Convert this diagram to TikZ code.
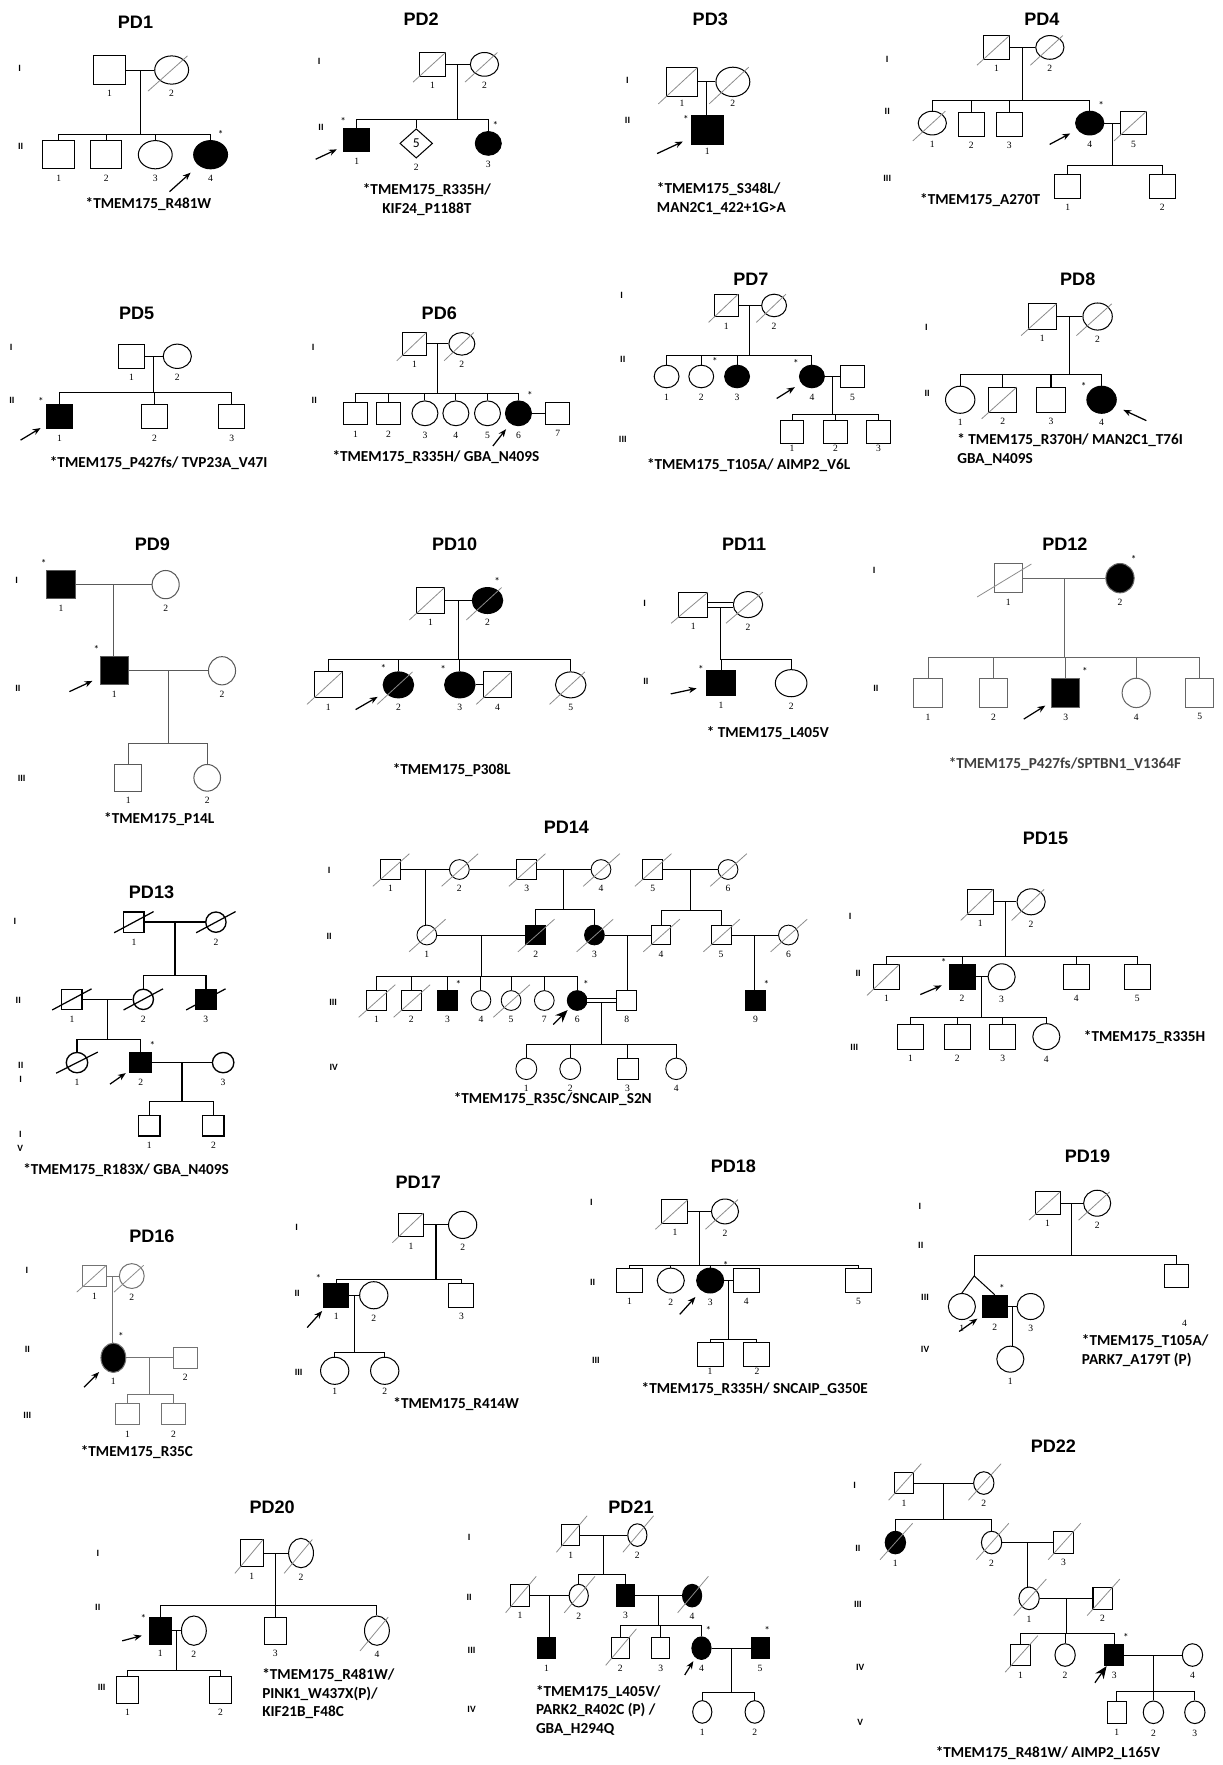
\documentclass[tikz,border=0pt]{standalone}
\usepackage{fontspec}
\setmainfont{Liberation Serif}
\newfontfamily\arialf{Liberation Sans}
\newfontfamily\calf{Carlito}
\usetikzlibrary{calc,shapes.geometric,arrows.meta}

\newcommand{\titlefont}{\arialf\bfseries\fontsize{16}{18}\selectfont}
\newcommand{\mutfont}{\calf\bfseries\fontsize{13.5}{16.5}\selectfont}
\newcommand{\numfont}{\fontsize{8.5}{9}\selectfont}
\newcommand{\genfont}{\calf\bfseries\fontsize{8.5}{12.5}\selectfont}

\def\symw{22pt}\def\symh{22pt}
\def\sxa{-0.75}\def\sya{-0.75}\def\sxb{0.5}\def\syb{0.5}
\def\numsep{4.5pt}

\tikzset{
  male/.style={draw, rectangle, minimum width=\symw, minimum height=\symh, inner sep=0pt},
  female/.style={draw, ellipse, minimum width=\symw, minimum height=\symh, inner sep=0pt},
  aff/.style={fill=black},
  num/.style={font=\numfont, inner sep=\numsep},
  stl/.style={font=\calf\fontsize{10}{10}\selectfont, inner sep=1.5pt},
  gen/.style={font=\genfont, align=center},
  pdtitle/.style={font=\titlefont},
  mut/.style={font=\mutfont, align=left},
  slash/.style={black!45, line width=0.7pt},
  proband/.style={-{Stealth[length=7pt,width=5.5pt]}, line width=1.1pt, black},
  bigproband/.style={-{Stealth[length=11pt,width=9pt]}, line width=1.1pt, black},
}

% symbols, marriages and sibships
\newcommand{\mal}[4][]{\node[male,#1,label={[num]below:#4}] (#2) at (#3) {};}
\newcommand{\fem}[4][]{\node[female,#1,label={[num]below:#4}] (#2) at (#3) {};}
\newcommand{\dead}[1]{\draw[slash] ($(#1)+(\sxa*\symw,\sya*\symh)$) -- ($(#1)+(\sxb*\symw,\syb*\symh)$);}
\newcommand{\prob}[2][225]{\draw[proband] ($(#2)+(#1:1.75*\symw)$) -- ($(#2)+(#1:0.85*\symw)$);}
\newcommand{\desc}[3]{\draw (#2) -- (#3); \coordinate (#1) at ($(#2.east)!0.5!(#3.west)$);}
\newcommand{\descc}[3]{\draw[double distance=3.5pt] (#2) -- (#3); \coordinate (#1) at ($(#2.east)!0.5!(#3.west)+(0,-2.2pt)$);}
\newcommand{\sibs}[3]{\draw (#1) -- (#1 |- 0,#2); \foreach \k in {#3} {\draw (\k.north) |- (#1 |- 0,#2);}}
\newcommand{\onechild}[2]{\draw (#1) -- (#1 |- #2.north);}

\begin{document}
\begin{tikzpicture}[x=1pt,y=-1pt,line width=0.9pt]
\fill[white] (0,0) rectangle (1083,1563);
\useasboundingbox (0,0) rectangle (1083,1563);

% PD1
\begin{scope}
\def\symw{28pt}\def\symh{25pt}
\node[pdtitle] (t1) at (120,20) {PD1};
\node[gen] (g1a) at (17.5,60.5) {I};
\node[gen] (g1b) at (18.3,130) {II};
\mal{p1a}{97,62}{1}
\fem[minimum width=30pt]{p1b}{152,62}{2} \dead{p1b}
\desc{p1m}{p1a}{p1b}
\mal{p1c}{52,137}{1}
\mal{p1d}{94,137}{2}
\fem[minimum width=30pt]{p1e}{137.5,137}{3}
\fem[aff,minimum width=30pt,label={[stl]70:*}]{p1f}{186.5,137}{4}
\prob[222]{p1f}
\sibs{p1m}{119}{p1c,p1d,p1e,p1f}
\node[mut] (m1) at (131.5,180.5) {*TMEM175\_R481W};
\end{scope}

% PD2
\begin{scope}
\def\symw{23pt}\def\symh{21pt}
\node[pdtitle] (t2) at (373,17) {PD2};
\node[gen] (g2a) at (282.6,54.6) {I};
\node[gen] (g2b) at (284.3,112.7) {II};
\mal{p2a}{383,57}{1} \dead{p2a}
\fem[minimum width=25pt]{p2b}{429,57}{2} \dead{p2b}
\desc{p2m}{p2a}{p2b}
\mal[aff,label={[stl]125:*}]{p2c}{316,124}{1}
\node[draw, diamond, minimum width=29pt, minimum height=26pt, inner sep=0pt, font=\calf\fontsize{12}{12}\selectfont, label={[num]below:2}] (p2d) at (368.6,127) {5};
\fem[aff,label={[stl]80:*}]{p2e}{432.4,127}{3}
\prob[205]{p2c}
\sibs{p2m}{105.6}{p2c,p2d,p2e}
\node[mut,align=center] (m2) at (378,177) {*TMEM175\_R335H/\\KIF24\_P1188T};
\end{scope}

% PD3
\begin{scope}
\def\symw{28pt}\def\symh{26pt}\def\numsep{2pt}
\node[pdtitle] (t3) at (629,17) {PD3};
\node[gen] (g3a) at (555.7,71.4) {I};
\node[gen] (g3b) at (555.7,106.2) {II};
\mal{p3a}{604,72.5}{1} \dead{p3a}
\fem[minimum width=30pt]{p3b}{649,72.5}{2} \dead{p3b}
\desc{p3m}{p3a}{p3b}
\mal[aff,label={[stl]165:*}]{p3c}{626.3,115.3}{1}
\onechild{p3m}{p3c}
\prob[205]{p3c}
\node[mut,anchor=west] (m3) at (578,176) {*TMEM175\_S348L/\\MAN2C1\_422+1G>A};
\end{scope}

% PD4
\begin{scope}
\def\symw{23pt}\def\symh{21pt}
\node[pdtitle] (t4) at (922.6,17) {PD4};
\node[gen] (g4a) at (785.7,53) {I};
\node[gen] (g4b) at (785.7,99) {II};
\node[gen] (g4c) at (785.7,158) {III};
\mal{p4a}{882.4,42}{1} \dead{p4a}
\fem[minimum width=25pt]{p4b}{929.7,42}{2} \dead{p4b}
\desc{p4m}{p4a}{p4b}
\fem[minimum width=25pt]{p4c}{825.6,109}{1} \dead{p4c}
\mal{p4d}{860.2,110}{2}
\mal{p4e}{893.7,110}{3}
\fem[aff,minimum width=25pt,label={[stl]60:*}]{p4f}{965,109}{4}
\mal{p4g}{1003.8,109}{5} \dead{p4g}
\prob[208]{p4f}
\sibs{p4m}{89.4}{p4c,p4d,p4e,p4f}
\desc{p4n}{p4f}{p4g}
\mal{p4h}{945.5,165.2}{1}
\mal{p4i}{1029.2,165.2}{2}
\sibs{p4n}{146.6}{p4h,p4i}
\node[mut] (m4) at (868,177) {*TMEM175\_A270T};
\end{scope}

% PD5
\begin{scope}
\def\symw{23pt}\def\symh{21.5pt}
\node[pdtitle] (t5) at (121,277.4) {PD5};
\node[gen] (g5a) at (9.8,307.4) {I};
\node[gen] (g5b) at (10.5,354.6) {II};
\mal{p5a}{116.5,315.5}{1}
\fem[minimum width=25pt]{p5b}{157,315.5}{2}
\desc{p5m}{p5a}{p5b}
\mal[aff,label={[stl]147:*}]{p5c}{52.7,369}{1}
\mal{p5d}{136.9,369}{2}
\mal{p5e}{205.3,369}{3}
\prob[211]{p5c}
\sibs{p5m}{347.6}{p5c,p5d,p5e}
\node[mut] (m5) at (140.5,410) {*TMEM175\_P427fs/ TVP23A\_V47I};
\end{scope}

% PD6
\begin{scope}
\def\symw{21pt}\def\symh{20pt}
\node[pdtitle] (t6) at (389,277.4) {PD6};
\node[gen] (g6a) at (277.3,307.4) {I};
\node[gen] (g6b) at (278.3,354.6) {II};
\mal{p6a}{367.1,304.5}{1} \dead{p6a}
\fem[minimum width=23pt]{p6b}{409,304.5}{2} \dead{p6b}
\desc{p6m}{p6a}{p6b}
\mal{p6c}{314.8,366}{1}
\mal{p6d}{344,366}{2}
\fem[minimum width=23pt,minimum height=22pt]{p6e}{376.3,366}{3}
\fem[minimum width=23pt,minimum height=22pt]{p6f}{403.7,366}{4}
\fem[minimum width=23pt,minimum height=22pt]{p6g}{431.7,366}{5}
\fem[aff,minimum width=23pt,minimum height=22pt,label={[stl]60:*}]{p6h}{459.1,366}{6}
\mal{p6i}{493.9,366}{7}
\draw (p6h) -- (p6i);
\prob[232]{p6h}
\sibs{p6m}{348.7}{p6c,p6d,p6e,p6f,p6g,p6h}
\node[mut] (m6) at (386,405) {*TMEM175\_R335H/ GBA\_N409S};
\end{scope}

% PD7
\begin{scope}
\def\symw{21pt}\def\symh{20pt}
\node[pdtitle] (t7) at (665,247) {PD7};
\node[gen] (g7a) at (550.4,262) {I};
\node[gen] (g7b) at (551.5,318.6) {II};
\node[gen] (g7c) at (551.5,389.4) {III};
\mal{p7a}{643.2,270.5}{1} \dead{p7a}
\fem[minimum width=22pt]{p7b}{685.5,270.5}{2} \dead{p7b}
\desc{p7m}{p7a}{p7b}
\fem[minimum width=22pt]{p7c}{590.3,333.4}{1}
\fem[minimum width=22pt,label={[stl]45:*}]{p7d}{621,333.4}{2}
\fem[aff,minimum width=22pt]{p7e}{652.7,333.4}{3}
\fem[aff,minimum width=22pt,label={[stl]150:*}]{p7f}{719,333.4}{4}
\mal{p7g}{755,333.4}{5}
\prob[212]{p7f}
\sibs{p7m}{315.1}{p7c,p7d,p7e,p7f}
\desc{p7n}{p7f}{p7g}
\def\numsep{1pt}
\mal{p7h}{701.4,382.5}{1}
\mal{p7i}{739.9,382.5}{2}
\mal{p7j}{778,382.5}{3}
\sibs{p7n}{367}{p7h,p7i,p7j}
\node[mut] (m7) at (663,411.5) {*TMEM175\_T105A/ AIMP2\_V6L};
\end{scope}

% PD8
\begin{scope}
\def\symw{25pt}\def\symh{22.5pt}
\node[pdtitle] (t8) at (954.4,247) {PD8};
\node[gen] (g8a) at (820.3,289.7) {I};
\node[gen] (g8b) at (821,348.1) {II};
\mal{p8a}{923,280.3}{1} \dead{p8a}
\fem[minimum width=26pt,minimum height=24pt]{p8b}{972,280.3}{2} \dead{p8b}
\desc{p8m}{p8a}{p8b}
\fem[minimum width=26pt,minimum height=24pt]{p8c}{850.3,354}{1}
\mal{p8d}{888,354}{2} \dead{p8d}
\mal{p8e}{930.7,354}{3}
\fem[aff,minimum width=26pt,minimum height=24pt,label={[stl]150:*}]{p8f}{975.5,354}{4}
\prob[335]{p8f}
\sibs{p8m}{331.9}{p8c,p8d,p8e,p8f}
\node[mut,anchor=west] (m8) at (844,398) {* TMEM175\_R370H/ MAN2C1\_T76I\\GBA\_N409S};
\end{scope}

% PD9
\begin{scope}[draw=black!65]
\def\symw{25pt}\def\symh{25pt}
\node[pdtitle] (t9) at (135,482.3) {PD9};
\node[gen] (g9a) at (14.7,514.2) {I};
\node[gen] (g9b) at (15.8,609.2) {II};
\node[gen] (g9c) at (19.2,689.7) {III};
\mal[aff,label={[stl]130:*}]{p9a}{54,517.7}{1}
\fem[minimum width=24pt]{p9b}{146.7,517.7}{2}
\desc{p9m}{p9a}{p9b}
\mal[aff,label={[stl]131:*}]{p9c}{101.1,594}{1}
\onechild{p9m}{p9c}
\fem[minimum width=24pt]{p9d}{196.6,594}{2}
\prob[205]{p9c}
\desc{p9n}{p9c}{p9d}
\mal[minimum width=23.6pt,minimum height=23.6pt]{p9e}{113.6,688.8}{1}
\fem[minimum width=23.6pt,minimum height=23.6pt]{p9f}{183.5,688.8}{2}
\sibs{p9n}{658.4}{p9e,p9f}
\node[mut] (m9) at (141,725.7) {*TMEM175\_P14L};
\end{scope}

% PD10
\begin{scope}
\def\symw{25pt}\def\symh{23pt}
\node[pdtitle] (t10) at (402.6,482.3) {PD10};
\mal{p10a}{381.2,531.8}{1} \dead{p10a}
\fem[aff,minimum width=27pt,label={[stl]70:*}]{p10b}{431.7,531.8}{2} \dead{p10b}
\desc{p10m}{p10a}{p10b}
\mal{p10c}{290.6,606.5}{1} \dead{p10c}
\fem[aff,minimum width=27pt,label={[stl]133:*}]{p10d}{352.8,606.5}{2} \dead{p10d}
\fem[aff,minimum width=27pt,label={[stl]142:*}]{p10e}{407.2,606.5}{3}
\mal{p10f}{440.5,606.5}{4} \dead{p10f}
\fem[minimum width=27pt]{p10g}{505.4,606.5}{5} \dead{p10g}
\draw (p10e) -- (p10f);
\prob[210]{p10d}
\sibs{p10m}{584.1}{p10c,p10d,p10e,p10g}
\node[mut] (m10) at (400,682) {*TMEM175\_P308L};
\end{scope}

% PD11
\begin{scope}
\def\symw{26pt}\def\symh{22pt}
\node[pdtitle] (t11) at (659,482.3) {PD11};
\node[gen] (g11a) at (570.9,534) {I};
\node[gen] (g11b) at (571.9,603.3) {II};
\mal{p11a}{613.9,535.4}{1} \dead{p11a}
\fem[minimum height=23pt]{p11b}{662.4,535.4}{2} \dead{p11b}
\descc{p11m}{p11a}{p11b}
\mal[aff,label={[stl]154:*}]{p11c}{638.5,605}{1}
\fem[minimum width=28pt,minimum height=24pt]{p11d}{700.6,605}{2}
\prob[192]{p11c}
\sibs{p11m}{584.1}{p11c,p11d}
\node[mut] (m11) at (680,649) {* TMEM175\_L405V};
\end{scope}

% PD12
\begin{scope}[draw=black!60]
\def\symw{25pt}\def\symh{26pt}
\def\sxa{-1.1}\def\sya{-0.64}\def\sxb{0.82}\def\syb{0.48}
\node[pdtitle] (t12) at (943,482.3) {PD12};
\node[gen] (g12a) at (774,505.3) {I};
\node[gen] (g12b) at (775.7,610) {II};
\mal{p12a}{892.8,512}{1} \dead{p12a}
\fem[aff,label={[stl]55:*}]{p12b}{991.8,512}{2}
\desc{p12m}{p12a}{p12b}
\mal{p12c}{821.8,613.6}{1}
\mal{p12d}{879.9,613.6}{2}
\mal[aff,label={[stl]47:*}]{p12e}{943.7,613.6}{3}
\fem{p12f}{1006.2,613.6}{4}
\mal{p12g}{1062.5,613.6}{5}
\prob[212]{p12e}
\sibs{p12m}{582.6}{p12c,p12d,p12e,p12f,p12g}
\node[mut,text=black!75] (m12) at (943,677) {*TMEM175\_P427fs/SPTBN1\_V1364F};
\end{scope}

% PD13
\begin{scope}[line width=1.2pt]
\def\symw{18pt}\def\symh{18pt}
\def\sxa{-0.97}\def\sya{-0.52}\def\sxb{0.97}\def\syb{0.52}
\tikzset{slash/.style={black, line width=1.1pt}}
\node[pdtitle] (t13) at (134.2,790) {PD13};
\node[gen] (g13a) at (13.3,815.7) {I};
\node[gen] (g13b) at (16.2,885.9) {II};
\node[gen] (g13c) at (18.4,949.6) {II\\I};
\node[gen] (g13d) at (18,1011) {I\\V};
\mal{p13a}{118.6,816.6}{1} \dead{p13a}
\fem{p13b}{191.2,816.6}{2} \dead{p13b}
\desc{p13m}{p13a}{p13b}
\mal{p13c}{63.7,885}{1} \dead{p13c}
\fem{p13d}{126.9,885}{2} \dead{p13d}
\mal[aff]{p13e}{182.3,885}{3} \dead{p13e}
\sibs{p13m}{863.8}{p13d,p13e}
\desc{p13n}{p13c}{p13d}
\def\symw{19pt}
\fem{p13f}{68.2,941}{1} \dead{p13f}
\mal[aff,label={[stl]59:*}]{p13g}{124.6,941}{2}
\fem{p13h}{197.6,941}{3}
\prob[215]{p13g}
\sibs{p13n}{920.8}{p13f,p13g}
\desc{p13o}{p13g}{p13h}
\mal{p13i}{132.2,997}{1}
\mal{p13j}{189,997}{2}
\sibs{p13o}{975.6}{p13i,p13j}
\node[mut] (m13) at (111.6,1036) {*TMEM175\_R183X/ GBA\_N409S};
\end{scope}

% PD14
\begin{scope}[line width=0.8pt]
\def\symw{17.5pt}\def\symh{17.5pt}
\def\sxa{-0.9}\def\sya{-0.85}\def\sxb{0.95}\def\syb{0.8}
\node[pdtitle] (t14) at (501.6,732.2) {PD14};
\node[gen] (g14a) at (291.5,770.5) {I};
\node[gen] (g14b) at (291.5,829.5) {II};
\node[gen] (g14c) at (295,888) {III};
\node[gen] (g14d) at (295.5,945.5) {IV};
\mal{p14a}{345.9,770}{1} \dead{p14a}
\fem{p14b}{406.8,770}{2} \dead{p14b}
\mal{p14c}{466.4,770}{3} \dead{p14c}
\fem{p14d}{532.2,770}{4} \dead{p14d}
\mal{p14e}{578,770}{5} \dead{p14e}
\fem{p14f}{644.7,770}{6} \dead{p14f}
\desc{p14m}{p14a}{p14b}
\draw (p14b) -- (p14c);
\desc{p14n}{p14c}{p14d}
\desc{p14o}{p14e}{p14f}
\fem{p14g}{378,828}{1} \dead{p14g}
\mal[aff]{p14h}{474.4,828}{2} \dead{p14h}
\fem[aff]{p14i}{526.4,828}{3} \dead{p14i}
\mal{p14j}{585.4,828}{4} \dead{p14j}
\mal{p14k}{638.6,828}{5} \dead{p14k}
\fem{p14l}{698.2,828}{6} \dead{p14l}
\onechild{p14m}{p14g}
\sibs{p14n}{805.4}{p14h,p14i}
\sibs{p14o}{806}{p14j,p14k}
\desc{p14p}{p14g}{p14h}
\desc{p14q}{p14i}{p14j}
\desc{p14r}{p14k}{p14l}
\mal{p14s}{333.4,886}{1} \dead{p14s}
\mal{p14t}{364.3,886}{2} \dead{p14t}
\mal[aff,label={[stl]60:*}]{p14u}{396.4,886}{3}
\fem{p14v}{425.9,886}{4}
\fem{p14w}{452.6,886}{5} \dead{p14w}
\fem{p14x}{482,886}{7}
\fem[aff,label={[stl]68:*}]{p14y}{511.1,886}{6}
\mal{p14z}{555,886}{8}
\mal[aff,label={[stl]60:*}]{p14nine}{669,886}{9}
\sibs{p14p}{865}{p14s,p14t,p14u,p14v,p14w,p14x,p14y}
\onechild{p14q}{p14z}
\onechild{p14r}{p14nine}
\draw[bigproband] ($(p14y)+(225:30pt)$) -- ($(p14y)+(225:12pt)$);
\descc{p14cc}{p14y}{p14z}
\fem[minimum width=18.5pt,minimum height=19pt]{p14aa}{466.1,946.5}{1}
\fem[minimum width=18.5pt,minimum height=19pt]{p14ab}{505,946.5}{2}
\mal[minimum width=18.5pt,minimum height=19pt]{p14ac}{555.7,946.5}{3}
\fem[minimum width=18.5pt,minimum height=19pt]{p14ad}{598.8,946.5}{4}
\sibs{p14cc}{924.8}{p14aa,p14ab,p14ac,p14ad}
\node[mut] (m14) at (489.5,973.5) {*TMEM175\_R35C/SNCAIP\_S2N};
\end{scope}

% PD15
\begin{scope}
\def\symw{23pt}\def\symh{22pt}
\node[pdtitle] (t15) at (925.8,742.8) {PD15};
\node[gen] (g15a) at (752.9,811.8) {I};
\node[gen] (g15b) at (760,862) {II};
\node[gen] (g15c) at (756.5,927.8) {III};
\mal{p15a}{868,798.6}{1} \dead{p15a}
\fem[minimum width=25pt,minimum height=23pt]{p15b}{913.1,798.6}{2} \dead{p15b}
\desc{p15m}{p15a}{p15b}
\mal{p15c}{785,865}{1} \dead{p15c}
\mal[aff,label={[stl]150:*}]{p15d}{852,865}{2}
\fem[minimum width=24pt,minimum height=23pt]{p15e}{887,865}{3}
\mal{p15f}{953,865}{4}
\mal{p15g}{1007,865}{5}
\prob[203]{p15d}
\sibs{p15m}{847.2}{p15c,p15d,p15f,p15g}
\desc{p15n}{p15d}{p15e}
\mal{p15h}{806.4,918}{1}
\mal{p15i}{847.7,918}{2}
\mal{p15j}{887.9,918}{3}
\fem[minimum width=24pt,minimum height=23pt]{p15k}{926.6,918}{4}
\sibs{p15n}{901.2}{p15h,p15i,p15j,p15k}
\node[mut] (m15) at (1013.6,918) {*TMEM175\_R335H};
\end{scope}

% PD16
\begin{scope}[draw=black!55]
\def\symw{21pt}\def\symh{19pt}
\node[pdtitle] (t16) at (134.5,1094.5) {PD16};
\node[gen] (g16a) at (23.8,1125.4) {I};
\node[gen] (g16b) at (24.2,1195.3) {II};
\node[gen] (g16c) at (24.2,1253.2) {III};
\mal{p16a}{83.7,1130}{1} \dead{p16a}
\fem[minimum width=22pt,minimum height=22pt]{p16b}{116.7,1130}{2} \dead{p16b}
\desc{p16m}{p16a}{p16b}
\fem[aff,minimum width=22pt,minimum height=26pt,label={[stl]80:*}]{p16c}{100.4,1202.4}{1}
\onechild{p16m}{p16c}
\mal{p16d}{164.1,1202.4}{2}
\prob[225]{p16c}
\desc{p16n}{p16c}{p16d}
\mal{p16e}{112.9,1252.3}{1}
\mal{p16f}{153.7,1252.3}{2}
\sibs{p16n}{1234.6}{p16e,p16f}
\node[mut] (m16) at (121.2,1286.2) {*TMEM175\_R35C};
\end{scope}

% PD17
\begin{scope}
\def\symw{22pt}\def\symh{21pt}
\node[pdtitle] (t17) at (370.4,1047.3) {PD17};
\node[gen] (g17a) at (262.6,1087.1) {I};
\node[gen] (g17b) at (263.2,1145.2) {II};
\node[gen] (g17c) at (264.5,1215.4) {III};
\mal{p17a}{364,1084.7}{1} \dead{p17a}
\fem[minimum width=25pt,minimum height=24pt]{p17b}{409.7,1084.7}{2}
\desc{p17m}{p17a}{p17b}
\mal[aff,label={[stl]142:*}]{p17c}{297.8,1147}{1}
\fem[minimum width=25pt,minimum height=24pt]{p17d}{331,1147}{2}
\mal{p17e}{408.6,1147}{3}
\prob[228]{p17c}
\sibs{p17m}{1132.8}{p17c,p17e}
\desc{p17n}{p17c}{p17d}
\def\numsep{2.5pt}
\fem[minimum width=25pt,minimum height=24pt]{p17f}{296.4,1213.9}{1}
\fem[minimum width=25pt,minimum height=24pt]{p17g}{340.7,1213.9}{2}
\sibs{p17n}{1197.7}{p17f,p17g}
\node[mut] (m17) at (404,1243.5) {*TMEM175\_R414W};
\end{scope}

% PD18
\begin{scope}
\def\symw{23pt}\def\symh{21pt}
\node[pdtitle] (t18) at (649.5,1032.5) {PD18};
\node[gen] (g18a) at (523.8,1065) {I};
\node[gen] (g18b) at (524.9,1135.2) {II};
\node[gen] (g18c) at (527.7,1205.1) {III};
\mal{p18a}{597.7,1072.8}{1} \dead{p18a}
\fem[minimum width=24pt,minimum height=22pt]{p18b}{642,1072.8}{2} \dead{p18b}
\desc{p18m}{p18a}{p18b}
\mal{p18c}{557.5,1134}{1}
\fem[minimum width=24pt,minimum height=22pt]{p18d}{594,1134}{2}
\fem[aff,minimum width=24pt,minimum height=22pt,label={[stl]40:*}]{p18e}{628.9,1134}{3}
\mal{p18f}{660.8,1134}{4}
\mal{p18g}{760.3,1134}{5}
\prob[228]{p18e}
\sibs{p18m}{1120.4}{p18c,p18d,p18e,p18g}
\desc{p18n}{p18e}{p18f}
\def\numsep{1pt}
\mal{p18h}{628.8,1199.5}{1}
\mal{p18i}{670.3,1199.5}{2}
\sibs{p18n}{1186}{p18h,p18i}
\node[mut] (m18) at (668.3,1230) {*TMEM175\_R335H/ SNCAIP\_G350E};
\end{scope}

% PD19
\begin{scope}
\def\symw{22pt}\def\symh{20pt}
\node[pdtitle] (t19) at (963,1023.7) {PD19};
\node[gen] (g19a) at (814.7,1067.9) {I};
\node[gen] (g19b) at (815.4,1102.7) {II};
\node[gen] (g19c) at (819.2,1149) {III};
\node[gen] (g19d) at (819.2,1195.3) {IV};
\mal{p19a}{927.7,1065.5}{1} \dead{p19a}
\fem[minimum width=24pt,minimum height=23pt]{p19b}{971.6,1065.5}{2} \dead{p19b}
\desc{p19m}{p19a}{p19b}
\coordinate (p19tw) at (862.7,1129.9);
\node[male] (p19j) at (1041.8,1130) {};
\node[num] (p19k) at (1049,1172) {4};
\draw (p19tw) |- (p19m |- 0,1111.6);
\sibs{p19m}{1111.6}{p19j}
\fem[minimum width=24pt,minimum height=23pt]{p19c}{851.8,1157}{1}
\mal[aff,label={[stl]80:*}]{p19d}{880.9,1157}{2}
\fem[minimum width=24pt,minimum height=23pt]{p19e}{912.7,1157}{3}
\draw (p19c.north) -- (p19tw) -- (p19d.north);
\prob[215]{p19d}
\desc{p19n}{p19d}{p19e}
\fem[minimum width=24pt,minimum height=23pt]{p19f}{894.7,1203.6}{1}
\onechild{p19n}{p19f}
\node[mut,anchor=west] (m19) at (954.3,1196) {*TMEM175\_T105A/\\PARK7\_A179T (P)};
\end{scope}

% PD20
\begin{scope}
\def\symw{20pt}\def\symh{24pt}
\node[pdtitle] (t20) at (241,1335) {PD20};
\node[gen] (g20a) at (86.6,1375.6) {I};
\node[gen] (g20b) at (86.6,1423.4) {II};
\node[gen] (g20c) at (90,1494.2) {III};
\mal{p20a}{223,1375.3}{1} \dead{p20a}
\fem[minimum width=22pt,minimum height=26pt]{p20b}{266.6,1375.3}{2} \dead{p20b}
\desc{p20m}{p20a}{p20b}
\mal[aff,label={[stl]153:*}]{p20c}{142,1444}{1}
\fem[minimum width=22pt,minimum height=26pt]{p20d}{171.7,1444}{2}
\mal{p20e}{243.8,1444}{3}
\fem[minimum width=22pt,minimum height=26pt]{p20f}{333.8,1444}{4} \dead{p20f}
\prob[195]{p20c}
\sibs{p20m}{1421.9}{p20c,p20e,p20f}
\desc{p20n}{p20c}{p20d}
\mal{p20g}{112.9,1496.2}{1}
\mal{p20h}{195.3,1496.2}{2}
\sibs{p20n}{1479.4}{p20g,p20h}
\node[mut,anchor=west] (m20) at (228.5,1500) {*TMEM175\_R481W/\\PINK1\_W437X(P)/\\KIF21B\_F48C};
\end{scope}

% PD21
\begin{scope}
\def\symw{16pt}\def\symh{19pt}
\def\sxa{-0.8}\def\sya{-0.8}\def\sxb{0.9}\def\syb{0.9}
\node[pdtitle] (t21) at (558.8,1334.3) {PD21};
\node[gen] (g21a) at (415.5,1361.4) {I};
\node[gen] (g21b) at (415.5,1414.5) {II};
\node[gen] (g21c) at (417.6,1461.1) {III};
\node[gen] (g21d) at (417.6,1513.4) {IV};
\mal{p21a}{505.5,1359.4}{1} \dead{p21a}
\fem[minimum width=17pt,minimum height=20pt]{p21b}{564.4,1359.4}{2} \dead{p21b}
\desc{p21m}{p21a}{p21b}
\mal{p21c}{460.5,1413}{1} \dead{p21c}
\fem[minimum width=17pt,minimum height=20pt]{p21d}{512.5,1413}{2} \dead{p21d}
\mal[aff]{p21e}{554,1413}{3}
\fem[aff,minimum width=17pt,minimum height=20pt]{p21f}{612.9,1413}{4} \dead{p21f}
\sibs{p21m}{1393.9}{p21d,p21e}
\desc{p21n}{p21c}{p21d}
\desc{p21o}{p21e}{p21f}
\mal[aff]{p21g}{484,1459.5}{1}
\onechild{p21n}{p21g}
\mal{p21h}{549.2,1459.5}{2} \dead{p21h}
\mal{p21i}{585.2,1459.5}{3}
\fem[aff,minimum width=17pt,minimum height=20pt,label={[stl]80:*}]{p21j}{621.2,1459.5}{4}
\mal[aff,label={[stl]80:*}]{p21k}{673.1,1459.5}{5}
\sibs{p21o}{1439.6}{p21h,p21i,p21j}
\prob[238]{p21j}
\desc{p21p}{p21j}{p21k}
\fem[minimum width=17pt,minimum height=20pt]{p21l}{621.9,1516}{1}
\fem[minimum width=17pt,minimum height=20pt]{p21q}{668.3,1516}{2}
\sibs{p21p}{1498.6}{p21l,p21q}
\node[mut,anchor=west] (m21) at (470.9,1514.8) {*TMEM175\_L405V/\\PARK2\_R402C (P) /\\GBA\_H294Q};
\end{scope}

% PD22
\begin{scope}
\def\symw{17pt}\def\symh{19pt}
\def\sxa{-0.8}\def\sya{-0.8}\def\sxb{0.9}\def\syb{0.9}
\node[pdtitle] (t22) at (932.8,1280.3) {PD22};
\node[gen] (g22a) at (756.9,1315.1) {I};
\node[gen] (g22b) at (759.7,1371.2) {II};
\node[gen] (g22c) at (759.7,1420.4) {III};
\node[gen] (g22d) at (761.8,1476.5) {IV};
\node[gen] (g22e) at (761.8,1525.2) {V};
\mal{p22a}{800.5,1313.3}{1} \dead{p22a}
\fem[minimum width=18pt,minimum height=20pt]{p22b}{871.2,1313.3}{2} \dead{p22b}
\desc{p22m}{p22a}{p22b}
\fem[aff,minimum width=18pt,minimum height=20pt]{p22c}{792.9,1366}{1} \dead{p22c}
\fem[minimum width=18pt,minimum height=20pt]{p22d}{878.1,1366}{2} \dead{p22d}
\mal{p22e}{941.8,1366}{3} \dead{p22e}
\sibs{p22m}{1345.2}{p22c,p22d}
\desc{p22n}{p22d}{p22e}
\fem[minimum width=18pt,minimum height=20pt]{p22f}{911.3,1415.4}{1} \dead{p22f}
\mal{p22g}{976.4,1415.4}{2} \dead{p22g}
\onechild{p22n}{p22f}
\desc{p22o}{p22f}{p22g}
\mal{p22h}{903.7,1465.6}{1} \dead{p22h}
\fem[minimum width=18pt,minimum height=20pt]{p22i}{943.2,1465.6}{2}
\mal[aff,label={[stl]60:*}]{p22j}{986.8,1465.6}{3}
\fem[minimum width=18pt,minimum height=20pt]{p22k}{1056,1465.6}{4}
\sibs{p22o}{1446.4}{p22h,p22i,p22j}
\draw[bigproband] ($(p22j)+(235:30pt)$) -- ($(p22j)+(235:12pt)$);
\desc{p22p}{p22j}{p22k}
\mal{p22l}{988.9,1516.3}{1}
\fem[minimum width=18pt,minimum height=20pt]{p22q}{1021.4,1516.3}{2}
\fem[minimum width=18pt,minimum height=20pt]{p22r}{1058.1,1516.3}{3}
\sibs{p22p}{1498}{p22l,p22q,p22r}
\node[mut] (m22) at (928,1552.3) {*TMEM175\_R481W/ AIMP2\_L165V};
\end{scope}

\end{tikzpicture}
\end{document}
